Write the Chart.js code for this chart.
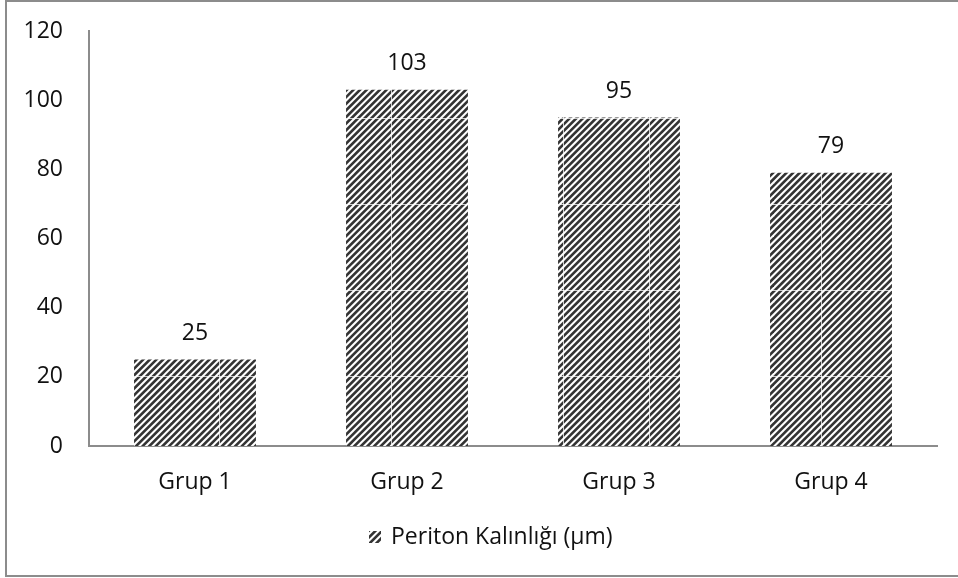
<!DOCTYPE html>
<html>
<head>
<meta charset="utf-8">
<script src="https://cdn.jsdelivr.net/npm/chart.js@4.4.1/dist/chart.umd.min.js"></script>
<style>
  html, body { margin: 0; padding: 0; background: #fff; }
  #wrap { position: relative; width: 958px; height: 578px; }
</style>
</head>
<body>
<div id="wrap"><canvas id="chart" width="958" height="578"></canvas></div>
<script>
// Peritoneal thickness by group
const categories = ['Grup 1', 'Grup 2', 'Grup 3', 'Grup 4'];
const thickness = [25, 103, 95, 79];
const seriesLabel = 'Periton Kalınlığı (µm)';
const yMin = 0;
const yMax = 120;
const yStep = 20;

const FONT = '"Open Sans", Lato, sans-serif';
const FS = 23;
const TEXT = '#111';
const AXIS = '#8c8c8c';

// Diagonal hatch tile ("/" stripes) with faint seams along the tile edges
function makeHatch() {
  const size = 86, n = 13, p = size / n;
  const c = document.createElement('canvas');
  c.width = size; c.height = size;
  const g = c.getContext('2d');
  g.fillStyle = '#fff';
  g.fillRect(0, 0, size, size);
  g.strokeStyle = '#333';
  g.lineWidth = 2.6;
  for (let k = -3; k <= 2 * n + 3; k++) {
    const s = k * p;
    g.beginPath();
    g.moveTo(s + 10, -10);
    g.lineTo(s - size - 10, size + 10);
    g.stroke();
  }
  // seams
  g.fillStyle = 'rgba(255,255,255,0.75)';
  g.fillRect(47, 0, 1, size);
  g.fillRect(0, 32, size, 1);
  return g.createPattern(c, 'repeat');
}
const hatch = makeHatch();

// White page with a thin grey outline around the whole chart
const frame = {
  id: 'frame',
  beforeDraw(chart) {
    const ctx = chart.ctx;
    ctx.save();
    ctx.fillStyle = '#fff';
    ctx.fillRect(0, 0, chart.width, chart.height);
    ctx.strokeStyle = AXIS;
    ctx.lineWidth = 2;
    ctx.strokeRect(6, 1, 980, 575);
    ctx.restore();
  }
};

// Value printed above each bar
const valueLabels = {
  id: 'valueLabels',
  afterDatasetsDraw(chart) {
    const ctx = chart.ctx;
    const meta = chart.getDatasetMeta(0);
    const data = chart.data.datasets[0].data;
    ctx.save();
    ctx.font = FS + 'px ' + FONT;
    ctx.fillStyle = TEXT;
    ctx.textAlign = 'center';
    ctx.textBaseline = 'middle';
    meta.data.forEach((bar, i) => {
      ctx.fillText(String(data[i]), bar.x, bar.y - 26);
    });
    ctx.restore();
  }
};

// Compact legend: small hatched swatch followed by the series name
const seriesKey = {
  id: 'seriesKey',
  afterDraw(chart) {
    const ds = chart.data.datasets[0];
    const ctx = chart.ctx;
    ctx.save();
    ctx.font = FS + 'px ' + FONT;
    const tw = ctx.measureText(ds.label).width;
    const box = 12, gap = 10;
    const total = box + gap + tw;
    const cx = chart.width / 2 + 12;
    const cy = 537;
    const x0 = Math.round(cx - total / 2);
    ctx.fillStyle = ds.backgroundColor;
    ctx.fillRect(x0, cy - box / 2, box, box);
    ctx.fillStyle = TEXT;
    ctx.textAlign = 'left';
    ctx.textBaseline = 'middle';
    ctx.fillText(ds.label, x0 + box + gap, cy);
    ctx.restore();
  }
};

new Chart(document.getElementById('chart'), {
  type: 'bar',
  data: {
    labels: categories,
    datasets: [{
      label: seriesLabel,
      data: thickness,
      backgroundColor: hatch,
      borderWidth: 0,
      categoryPercentage: 1,
      barPercentage: 0.575
    }]
  },
  options: {
    responsive: false,
    animation: false,
    devicePixelRatio: 1,
    layout: { padding: { left: 0, right: 21, top: 31, bottom: 60 } },
    plugins: {
      legend: { display: false },
      tooltip: { enabled: false }
    },
    scales: {
      x: {
        grid: { display: false, drawTicks: false },
        border: { display: true, color: AXIS, width: 2 },
        ticks: { color: TEXT, font: { family: FONT, size: FS }, padding: 23 },
        afterFit(scale) { scale.height = 72; }
      },
      y: {
        min: yMin,
        max: yMax,
        grid: { display: false, drawTicks: false },
        border: { display: true, color: AXIS, width: 2 },
        ticks: { stepSize: yStep, color: TEXT, font: { family: FONT, size: FS }, padding: 26 },
        afterFit(scale) {
          scale.width = 89;
          scale.paddingTop = 0;
          scale.paddingBottom = 0;
        }
      }
    }
  },
  plugins: [frame, valueLabels, seriesKey]
});
</script>
</body>
</html>
